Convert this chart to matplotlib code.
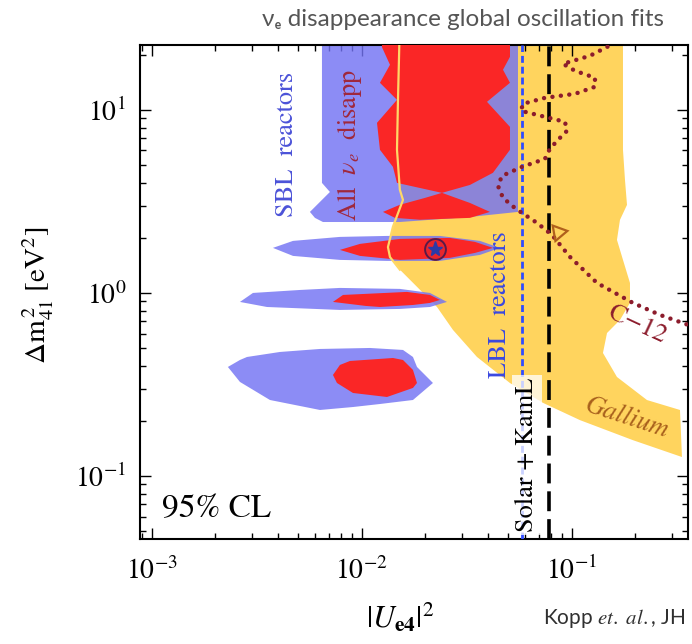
import matplotlib
matplotlib.use("Agg")
import matplotlib.pyplot as plt
import numpy as np

plt.rcParams['mathtext.fontset'] = 'stix'
plt.rcParams['font.family'] = ['STIXGeneral', 'DejaVu Serif']

# ---- allowed regions (|U_e4|^2, Δm^2_41 [eV^2]) ----
# Gallium anomaly region
gallium_x = [0.0152, 0.01489, 0.01473, 0.0152, 0.01573, 0.01409, 0.01334, 0.01364,
             0.0152, 0.01834, 0.02284, 0.02721, 0.0354, 0.05084, 0.0730, 0.1095,
             0.1957, 0.3351, 0.3279, 0.2284, 0.1643, 0.1409, 0.1473, 0.1698,
             0.1895, 0.1895, 0.1755, 0.1643, 0.1698, 0.1834, 0.1794, 0.1755, 0.1755]
gallium_y = [30.0, 11.34, 6.05, 3.66, 3.22, 2.30, 1.78, 1.57,
             1.34, 1.08, 0.838, 0.628, 0.447, 0.322, 0.251, 0.202,
             0.157, 0.127, 0.2295, 0.260, 0.3475, 0.470, 0.604, 0.712,
             0.882, 1.134, 1.515, 1.948, 2.506, 3.026, 4.144, 6.05, 30.0]
# number of points of the gallium outline drawn as the thin boundary line
gallium_edge_n = 9

# SBL reactor fit, high-Δm² band and three islands
sbl_hi_x = [0.00647, 0.00647, 0.00706, 0.00567, 0.00599, 0.00654, 0.0152, 0.0328, 0.0555, 0.0555]
sbl_hi_y = [30.0, 3.99, 3.56, 2.77, 2.57, 2.44, 2.44, 2.60, 2.77, 30.0]

sbl_1_x = [0.00378, 0.00471, 0.00788, 0.0132, 0.0236, 0.03658, 0.04556,
           0.03658, 0.0236, 0.0132, 0.00788, 0.00471]
sbl_1_y = [1.762, 1.924, 2.023, 2.048, 2.048, 1.924, 1.762,
           1.613, 1.496, 1.496, 1.515, 1.593]

sbl_2_x = [0.002633, 0.003037, 0.005084, 0.00788, 0.0152, 0.02114, 0.02548,
           0.02114, 0.0152, 0.00788, 0.00354]
sbl_2_y = [0.893, 1.0, 1.038, 1.065, 1.052, 1.0, 0.893,
           0.838, 0.8177, 0.8075, 0.838]

sbl_3_x = [0.002307, 0.002633, 0.002844, 0.004083, 0.00633, 0.01095, 0.01573,
           0.01755, 0.01834, 0.02185, 0.01755, 0.01222, 0.009091, 0.00633,
           0.003658, 0.002633]
sbl_3_y = [0.3942, 0.4304, 0.4469, 0.476, 0.4943, 0.5005, 0.4882,
           0.4469, 0.3942, 0.3223, 0.2602, 0.2474, 0.2382, 0.2295,
           0.2602, 0.3265]

# global fit of all ν_e disappearance data
all_hi_x = [0.01249, 0.01249, 0.01364, 0.01222, 0.01473, 0.01183, 0.01222, 0.01409,
            0.01473, 0.02412, 0.0328, 0.04219, 0.05084, 0.05084, 0.03951, 0.05084,
            0.04709, 0.05084, 0.05084]
all_hi_y = [30.0, 22.0, 17.62, 14.05, 11.34, 8.49, 6.05, 4.88,
            3.99, 3.52, 3.89, 4.53, 6.05, 8.07, 11.06, 14.05,
            16.55, 19.48, 30.0]

all_band_x = [0.02412, 0.0328, 0.0408, 0.0328, 0.01895, 0.01441, 0.01263, 0.0152, 0.02002]
all_band_y = [3.52, 3.10, 2.77, 2.57, 2.51, 2.57, 2.77, 3.03, 3.304]

all_1_x = [0.00788, 0.00982, 0.0152, 0.02633, 0.03463, 0.04219,
           0.03463, 0.02633, 0.0152, 0.00982]
all_1_y = [1.718, 1.853, 1.973, 1.997, 1.900, 1.762,
           1.654, 1.554, 1.515, 1.593]

all_2_x = [0.0073, 0.00815, 0.01643, 0.02114, 0.0236, 0.02114, 0.01755, 0.01222, 0.01048]
all_2_y = [0.893, 0.975, 1.013, 0.975, 0.9156, 0.8818, 0.8595, 0.838, 0.849]

all_3_x = [0.0073, 0.00788, 0.008795, 0.01409, 0.01573, 0.01755, 0.01834,
           0.01755, 0.0132, 0.009091, 0.007627]
all_3_y = [0.3565, 0.4043, 0.4250, 0.4413, 0.4304, 0.3796, 0.3223,
           0.3028, 0.2702, 0.2842, 0.3223]

# C-12 exclusion curve
c12_x = [0.1608, 0.1222, 0.09091, 0.1037, 0.1291, 0.1291, 0.1037, 0.07463,
         0.05863, 0.05737, 0.07463, 0.09291, 0.09497, 0.08418, 0.07712, 0.07463,
         0.05799, 0.04657, 0.04457, 0.04709, 0.05431, 0.06836, 0.08057, 0.09815,
         0.1320, 0.1957, 0.2633, 0.3823]
c12_y = [23.23, 19.73, 17.84, 16.34, 14.96, 13.36, 12.23, 11.63,
         10.79, 9.875, 9.155, 8.598, 7.677, 6.686, 5.894, 5.397,
         4.881, 4.357, 3.843, 3.304, 2.877, 2.413, 2.075, 1.573,
         1.134, 0.882, 0.7584, 0.652]
c12_marker = (0.0861, 2.154)

# vertical bounds
lbl_reactors = 0.058
solar_kaml = 0.078

# best-fit point
best_fit = (0.0223, 1.739)

# axis ranges and ticks
x_range = (8.8e-4, 0.358)
y_range = (0.0453, 22.6)
x_ticks = [1e-3, 1e-2, 1e-1]
y_ticks = [1e-1, 1e0, 1e1]

BLUE = (115 / 255, 115 / 255, 243 / 255)
RED = '#fa2626'
YELLOW = '#ffd45e'

fig = plt.figure(figsize=(6.92, 6.44), dpi=100)
ax = fig.add_axes([140 / 692, 1 - 539 / 644, 548 / 692, 494 / 644])
ax.set_xscale('log')
ax.set_yscale('log')

ax.fill(gallium_x, gallium_y, color=YELLOW, lw=0, zorder=1)
for xs, ys in [(sbl_hi_x, sbl_hi_y), (sbl_1_x, sbl_1_y), (sbl_2_x, sbl_2_y), (sbl_3_x, sbl_3_y)]:
    ax.fill(xs, ys, color=BLUE, alpha=0.82, lw=0, zorder=2)
for xs, ys in [(all_hi_x, all_hi_y), (all_band_x, all_band_y), (all_1_x, all_1_y),
               (all_2_x, all_2_y), (all_3_x, all_3_y)]:
    ax.fill(xs, ys, color=RED, lw=0, zorder=3)
ax.plot(gallium_x[:gallium_edge_n], gallium_y[:gallium_edge_n], color='#ffd866', lw=1.6, zorder=4)

ax.axvline(lbl_reactors, color='#2f4cff', lw=2.0, dashes=(2.5, 1.4), zorder=5)
ax.axvline(solar_kaml, color='black', lw=2.6, dashes=(5.5, 2.2), zorder=5)
ax.plot(c12_x, c12_y, color='#8c1c2c', lw=3.2, linestyle=(0, (0.01, 1.9)),
        dash_capstyle='round', zorder=5)
ax.plot(*c12_marker, marker=(3, 0, 160), ms=13, mfc='none', mec='#b0601c', mew=1.6, zorder=6)

ax.plot(*best_fit, marker='o', ms=15, mfc='#e8262c', mec='#5a1a48', mew=1.4, zorder=7)
ax.plot(*best_fit, marker='*', ms=11, mfc='#2a3aa8', mec='#2a3aa8', zorder=8)

ax.set_xlim(*x_range)
ax.set_ylim(*y_range)
ax.set_xticks(x_ticks)
ax.set_yticks(y_ticks)
ax.tick_params(which='both', direction='in', top=True, right=True, width=1.0, color='black')
ax.tick_params(which='major', length=8, labelsize=20)
ax.tick_params(which='minor', length=4)
ax.tick_params(axis='x', pad=13)
ax.tick_params(axis='y', pad=10)
for s in ax.spines.values():
    s.set_linewidth(1.5)

# region labels
ax.text(0.268, 0.798, 'SBL  reactors', rotation=90, ha='center', va='center',
        color='#4b52d8', fontsize=19, transform=ax.transAxes, zorder=9)
ax.text(0.383, 0.798, r'All  $\nu_e$  disapp', rotation=90, ha='center', va='center',
        color='#a0283c', fontsize=19, transform=ax.transAxes, zorder=9)
ax.text(0.657, 0.474, 'LBL  reactors', rotation=90, ha='center', va='center',
        color='#3a48e0', fontsize=19, transform=ax.transAxes, zorder=9)
ax.text(0.706, 0.170, 'Solar + KamL', rotation=90, ha='center', va='center',
        color='black', fontsize=19, transform=ax.transAxes, zorder=9,
        bbox=dict(boxstyle='square,pad=0.1', fc='white', ec='none', alpha=0.75))
ax.text(0.907, 0.433, 'C\u221212', rotation=-25, ha='center', va='center',
        color='#8c1c2c', fontsize=19, transform=ax.transAxes, zorder=9)
ax.text(0.889, 0.245, 'Gallium', rotation=-18, ha='center', va='center',
        color='#a8601c', fontsize=19, style='italic', transform=ax.transAxes, zorder=9)
ax.text(0.140, 0.059, '95% CL', ha='center', va='center', color='black',
        fontsize=24, transform=ax.transAxes, zorder=9)

# axis titles
fig.text(38 / 692, 1 - 295 / 644, r'$\Delta\mathrm{m}^{\,2}_{41}\ [\mathrm{eV}^2]$',
         rotation=90, ha='center', va='center', fontsize=21)
fig.text(400 / 692, 1 - 618 / 644, r'$|U_{\mathbf{e4}}|^2$', ha='center', va='center', fontsize=22)

fig.text(463 / 692, 1 - 19 / 644, '\u03bd\u2091 disappearance global oscillation fits',
         ha='center', va='center', fontsize=17.5, color='#555555', family=['Lato', 'DejaVu Sans'])
fig.text(543 / 692, 1 - 618 / 644, 'Kopp $\\it{et.\\ al.}$, JH', ha='left', va='center',
         fontsize=15, color='#303030', family=['Lato', 'DejaVu Sans'])

fig.savefig('out.png', dpi=100)
